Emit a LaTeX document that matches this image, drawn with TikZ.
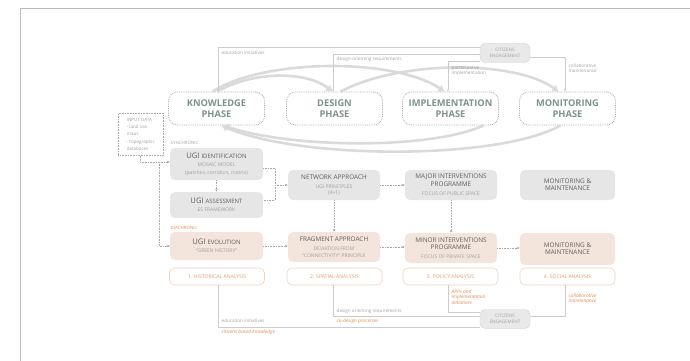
\documentclass[tikz,border=0pt]{standalone}
\usepackage{fontspec}
\setmainfont{Open Sans}
\usetikzlibrary{arrows.meta}
\definecolor{framegray}{HTML}{BBBBBB}
\definecolor{dotgray}{HTML}{A8A8A8}
\definecolor{phasegreen}{HTML}{7E928B}
\definecolor{boxgray}{HTML}{E6E6E6}
\definecolor{boxpink}{HTML}{F3E5DC}
\definecolor{titlegray}{HTML}{5E5E5E}
\definecolor{subgray}{HTML}{A0A0A0}
\definecolor{anborder}{HTML}{EFD2C0}
\definecolor{anorange}{HTML}{E29C70}
\definecolor{orangetxt}{HTML}{E0884C}
\definecolor{linegray}{HTML}{CCCCCC}
\definecolor{arcgray}{HTML}{DADADA}
\definecolor{citfill}{HTML}{E9E9E9}
\tikzset{
  phasebox/.style={draw=dotgray, densely dotted, line width=0.8pt, rounded corners=9pt,
    minimum width=96pt, minimum height=33pt, text=phasegreen, align=center,
    font=\fontsize{9.3}{11.5}\selectfont\bfseries},
  graybox/.style={fill=boxgray, rounded corners=5pt, minimum width=93pt, align=center,
    text=titlegray, inner sep=1pt, font=\fontsize{6.4}{7.4}\selectfont},
  pinkbox/.style={fill=boxpink, rounded corners=5pt, minimum width=93pt, align=center,
    text=titlegray, inner sep=1pt, font=\fontsize{6.4}{7.4}\selectfont},
  anbox/.style={draw=anborder, line width=0.6pt, fill=white, rounded corners=5pt,
    minimum width=95pt, minimum height=17pt, text=anorange, font=\fontsize{5.1}{6}\selectfont},
  citbox/.style={fill=citfill, draw=linegray, line width=0.3pt, rounded corners=5pt,
    minimum width=50pt, minimum height=19pt, text=subgray, align=center,
    font=\fontsize{4.6}{5.6}\selectfont, inner sep=1pt},
  dotarrow/.style={draw=dotgray, densely dotted, line width=0.6pt, -{Stealth[length=3pt,width=2.5pt]}},
  dotline/.style={draw=dotgray, densely dotted, line width=0.6pt},
  thinline/.style={draw=linegray, line width=0.4pt},
  thinarrow/.style={draw=linegray, line width=0.4pt, -{Stealth[length=2.5pt,width=2pt]}},
  bigarc/.style={draw=arcgray, line width=2.6pt, -{Triangle[length=6pt,width=7pt]}},
  lbl/.style={text=subgray, font=\fontsize{4.6}{5.4}\selectfont, inner sep=0.5pt, align=left},
  olbl/.style={text=orangetxt, font=\fontsize{4.8}{5.6}\selectfont\itshape, inner sep=0.5pt, align=left},
}
\newcommand{\bigt}[2]{{\fontsize{7.6}{8}\selectfont #1 {\fontsize{6}{7}\selectfont #2}}}
\newcommand{\subt}[1]{{\fontsize{5}{6}\selectfont\color{subgray}#1}}
\begin{document}
\begin{tikzpicture}[x=1pt,y=-1pt]
\useasboundingbox (0,0) rectangle (690,361);
% frame
\draw[framegray, line width=0.8pt] (20,361) -- (20,8) -- (690,8);

% phases
\node[phasebox] (K) at (216.5,108.5) {KNOWLEDGE\\PHASE};
\node[phasebox] (D) at (334.5,108.5) {DESIGN\\PHASE};
\node[phasebox] (I) at (450.5,108.5) {IMPLEMENTATION\\PHASE};
\node[phasebox] (M) at (567.5,108.5) {MONITORING\\PHASE};

% big arcs
\draw[bigarc] ([xshift=1pt]K.north) .. controls (250,72) and (305,70) .. ([xshift=-2pt]D.north);
\draw[bigarc] ([xshift=-4pt]K.north) .. controls (265,58) and (395,58) .. ([xshift=-6pt]I.north);
\draw[bigarc] ([xshift=6pt]D.north) .. controls (400,60) and (515,60) .. ([xshift=-9pt]M.north);
\draw[bigarc] ([xshift=33pt]I.south) .. controls (430,150) and (290,148) .. ([xshift=7pt]K.south);
\draw[bigarc] ([xshift=-7pt]M.south) .. controls (500,160) and (300,160) .. ([xshift=5pt]K.south);

% citizens top
\node[citbox] (CT) at (505,53) {CITIZENS\\ENGAGEMENT};
\coordinate (kt) at (218,47);
\coordinate (dt) at (333,54);
\coordinate (it) at (448,61);
\coordinate (mt) at (565,57);
\draw[thinarrow] (CT.west |- kt) -- (kt) -- (kt |- K.north);
\draw[thinarrow] (CT.west |- dt) -- (dt) -- (dt |- D.north);
\draw[thinarrow] (CT.south west |- it) -- (it) -- (it |- I.north);
\draw[thinarrow] (CT.east |- mt) -- (mt) -- (mt |- M.north);
\node[lbl, anchor=west] (l1) at (221,52.5) {education initiatives};
\node[lbl, anchor=west] (l2) at (336,59) {design-orienting requirements};
\node[lbl, anchor=north west] (l3) at (451,65.5) {partecipative\\implementation};
\node[lbl, anchor=north west] (l4) at (568,63) {collaborative\\maintenance};

% input data
\node[draw=dotgray, densely dotted, line width=0.6pt, text=subgray, align=left,
  font=\fontsize{4.5}{7.4}\selectfont, inner sep=1.5pt, minimum width=45pt, minimum height=42pt,
  anchor=north west] (IN) at (118,113) {INPUT DATA\\- land use\\maps\\- topographic\\databases};

% row labels
\node[lbl, anchor=west, font=\fontsize{4.4}{5}\selectfont] (syn) at (170,143) {SYNCHRONIC};
\node[lbl, anchor=west, text=orangetxt, font=\fontsize{4.4}{5}\selectfont] (dia) at (170,228) {DIACHRONIC};

% row 1
\node[graybox, minimum height=32pt] (ID) at (216.5,164) {\bigt{UGI}{IDENTIFICATION}\\[1.5pt]\subt{MOSAIC MODEL}\\\subt{(patches, corridors, matrix)}};
\node[graybox, minimum height=26pt] (AS) at (216.5,205) {\bigt{UGI}{ASSESSMENT}\\[0.5pt]\subt{ES FRAMEWORK}};
\node[graybox, minimum height=30pt, minimum width=92pt] (NW) at (334,185) {NETWORK APPROACH\\[2pt]\subt{UGI PRINCIPLES}\\[-1pt]\subt{(4+1)}};
\node[graybox, minimum height=30pt, minimum width=92pt] (MJ) at (451,185) {MAJOR INTERVENTIONS\\PROGRAMME\\[2pt]\subt{FOCUS OF PUBLIC SPACE}};
\node[graybox, minimum height=30pt, minimum width=95pt] (MG) at (567.5,185) {MONITORING \&\\MAINTENANCE};

% row 2
\node[pinkbox, minimum height=28pt] (EV) at (216.5,246) {\bigt{UGI}{EVOLUTION}\\[0.5pt]\subt{``GREEN HISTORY''}};
\node[pinkbox, minimum height=30pt, minimum width=92pt] (FR) at (334,247) {FRAGMENT APPROACH\\[1.5pt]\subt{DEVIATION FROM}\\[-0.5pt]\subt{``CONNECTIVITY'' PRINCIPLE}};
\node[pinkbox, minimum height=30pt, minimum width=92pt] (MN) at (451,248) {MINOR INTERVENTIONS\\PROGRAMME\\[1.5pt]\subt{FOCUS OF PRIVATE SPACE}};
\node[pinkbox, minimum height=32pt, minimum width=95pt] (MP) at (567.5,249) {MONITORING \&\\MAINTENANCE};

% analysis boxes
\node[anbox] (A1) at (217,276.5) {1. HISTORICAL ANALYSIS};
\node[anbox] (A2) at (334.5,276.5) {2. SPATIAL ANALYSIS};
\node[anbox] (A3) at (450.5,276.5) {3. POLICY ANALYSIS};
\node[anbox] (A4) at (567.5,276.5) {4. SOCIAL ANALYSIS};

% dotted connectors
\coordinate (inb) at (140,162);
\coordinate (lv) at (159,162);
\draw[dotarrow] (IN.south -| inb) -- (inb) -- (inb -| ID.west);
\draw[dotarrow] (lv) -- (lv |- EV.west) -- (EV.west);
\draw[dotarrow] (ID.south) -- (AS.north);
\coordinate (br) at (275,185);
\draw[dotline] ([yshift=-4pt]ID.east) -- ([yshift=-4pt]ID.east -| br) -- ([yshift=5pt]AS.east -| br) -- ([yshift=5pt]AS.east);
\draw[dotarrow] (br) -- (NW.west);
\draw[dotarrow] (NW.east) -- (MJ.west);
\draw[dotarrow] (NW.south) -- (FR.north);
\draw[dotarrow] (MJ.south) -- (MN.north);
\draw[dotarrow] (EV.east) -- (EV.east -| FR.west);
\draw[dotarrow] (FR.east) -- (FR.east -| MN.west);
\draw[dotarrow] (MN.east) -- (MN.east -| MP.west);

% citizens bottom
\node[citbox] (CB) at (505,319) {CITIZENS\\ENGAGEMENT};
\coordinate (hb) at (218,327);
\coordinate (sb) at (333,316);
\coordinate (pb) at (448,312);
\coordinate (qb) at (565,316);
\draw[thinline] (A1.south -| hb) -- (hb) -- (hb -| CB.west);
\draw[thinline] (A2.south -| sb) -- (sb) -- (sb -| CB.west);
\draw[thinline] (A3.south -| pb) -- (pb) -- (pb -| CB.west);
\draw[thinline] (A4.south -| qb) -- (qb) -- (qb -| CB.east);
\node[lbl, anchor=west] (b1) at (221,321) {education initiatives};
\node[olbl, anchor=west] (b2) at (221,332.5) {citizens based knowledge};
\node[lbl, anchor=west] (b3) at (336,311) {design orienting requirements};
\node[olbl, anchor=west] (b4) at (336,321) {co-design processes};
\node[olbl, anchor=north west] (b5) at (451,289) {APPs and\\implementation\\initiatives};
\node[olbl, anchor=north west] (b6) at (568,293) {collaborative\\maintenance};
\end{tikzpicture}
\end{document}
